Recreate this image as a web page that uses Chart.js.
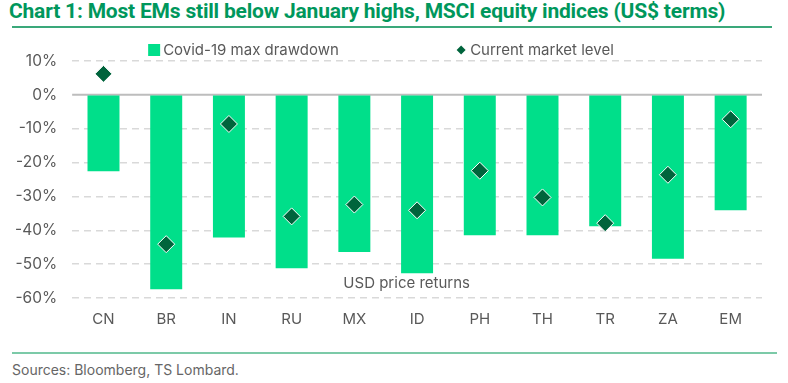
<!DOCTYPE html>
<html>
<head>
<meta charset="utf-8">
<script src="https://cdn.jsdelivr.net/npm/chart.js@4"></script>
<style>
  body { margin: 0; width: 788px; height: 383px; background: #fff; font-family: Inter, Roboto, sans-serif; overflow: hidden; position: relative; }
  #title { position: absolute; left: 9px; top: -1px; font: 700 21px Roboto, sans-serif; color: #00975c; letter-spacing: -0.2px; white-space: nowrap; }
  #topRule { position: absolute; left: 12px; top: 26px; width: 760px; height: 2px; background: #3aa87a; }
  #chartBox { position: absolute; left: 0; top: 34px; width: 788px; height: 298px; }
  #footRule { position: absolute; left: 12px; top: 352px; width: 765px; height: 2px; background: #7ccaa8; }
  #source { position: absolute; left: 12px; top: 361px; font: 14px Inter, Roboto, sans-serif; color: #666; }
</style>
</head>
<body>
<div id="title">Chart 1: Most EMs still below January highs, MSCI equity indices (US$ terms)</div>
<div id="topRule"></div>
<div id="chartBox"><canvas id="emChart"></canvas></div>
<div id="footRule"></div>
<div id="source">Sources: Bloomberg, TS Lombard.</div>
<script>
const countries = ['CN', 'BR', 'IN', 'RU', 'MX', 'ID', 'PH', 'TH', 'TR', 'ZA', 'EM'];
const maxDrawdown = [-22.6, -57.4, -42.1, -51.2, -46.4, -52.7, -41.5, -41.5, -38.8, -48.4, -34.1];
const currentLevel = [6.2, -44.1, -8.6, -35.9, -32.4, -34.1, -22.4, -30.3, -37.9, -23.6, -7.2];
const yTicks = [10, 0, -10, -20, -30, -40, -50, -60];

const barGreen = '#00df8a';
const darkGreen = '#00643c';
const textGrey = '#595959';

const extras = {
  id: 'extras',
  beforeDatasetsDraw(chart) {
    const { ctx, chartArea, scales } = chart;
    const y0 = scales.y.getPixelForValue(0);
    ctx.save();
    ctx.strokeStyle = '#bdbdbd';
    ctx.lineWidth = 2;
    ctx.beginPath();
    ctx.moveTo(chartArea.left, y0);
    ctx.lineTo(chartArea.right, y0);
    ctx.stroke();
    ctx.restore();
  },
  afterDraw(chart) {
    const { ctx, chartArea, scales } = chart;
    ctx.save();
    ctx.font = '15px Inter, Roboto, sans-serif';
    ctx.fillStyle = textGrey;
    ctx.textBaseline = 'middle';
    // annotation
    ctx.fillText('USD price returns', scales.x.getPixelForValue(4) - 11, scales.y.getPixelForValue(-55.6));
    // legend row
    const ly = chartArea.top - 11;
    const lx1 = chartArea.left + 76;
    ctx.fillStyle = barGreen;
    ctx.fillRect(lx1, ly - 6, 12, 12);
    ctx.fillStyle = textGrey;
    ctx.fillText('Covid-19 max drawdown', lx1 + 15, ly);
    const lx2 = chartArea.left + 389;
    ctx.fillStyle = darkGreen;
    ctx.beginPath();
    ctx.moveTo(lx2, ly - 4.5);
    ctx.lineTo(lx2 + 4.5, ly);
    ctx.lineTo(lx2, ly + 4.5);
    ctx.lineTo(lx2 - 4.5, ly);
    ctx.closePath();
    ctx.fill();
    ctx.fillStyle = textGrey;
    ctx.fillText('Current market level', lx2 + 9, ly);
    ctx.restore();
  }
};

new Chart(document.getElementById('emChart'), {
  type: 'bar',
  data: {
    labels: countries,
    datasets: [
      {
        type: 'line',
        label: 'Current market level',
        data: currentLevel,
        showLine: false,
        pointStyle: 'rectRot',
        pointRadius: 8.5,
        pointHoverRadius: 8.5,
        pointBackgroundColor: darkGreen,
        pointBorderColor: '#ffffff',
        pointBorderWidth: 1,
        order: 0,
      },
      {
        label: 'Covid-19 max drawdown',
        data: maxDrawdown,
        backgroundColor: barGreen,
        borderWidth: 0,
        categoryPercentage: 1,
        barPercentage: 0.51,
        order: 1,
      },
    ],
  },
  options: {
    responsive: true,
    maintainAspectRatio: false,
    animation: false,
    layout: { padding: { top: 27, right: 26, left: 0, bottom: 0 } },
    plugins: { legend: { display: false }, tooltip: { enabled: false } },
    scales: {
      x: {
        grid: { display: false },
        border: { display: false },
        ticks: { color: textGrey, font: { size: 15, family: 'Inter, Roboto, sans-serif' }, padding: 4 },
      },
      y: {
        min: -60,
        max: 10,
        afterBuildTicks(axis) { axis.ticks = yTicks.map((v) => ({ value: v })); },
        grid: {
          color: (c) => (c.tick && c.tick.value === 0 ? 'rgba(0,0,0,0)' : '#d9d9d9'),
          lineWidth: 1.5,
          drawTicks: false,
        },
        border: { display: false, dash: [7, 5] },
        ticks: {
          color: textGrey,
          font: { size: 15.5, family: 'Inter, Roboto, sans-serif' },
          padding: 15,
          callback: (v) => v + '%',
        },
      },
    },
  },
  plugins: [extras],
});
</script>
</body>
</html>
